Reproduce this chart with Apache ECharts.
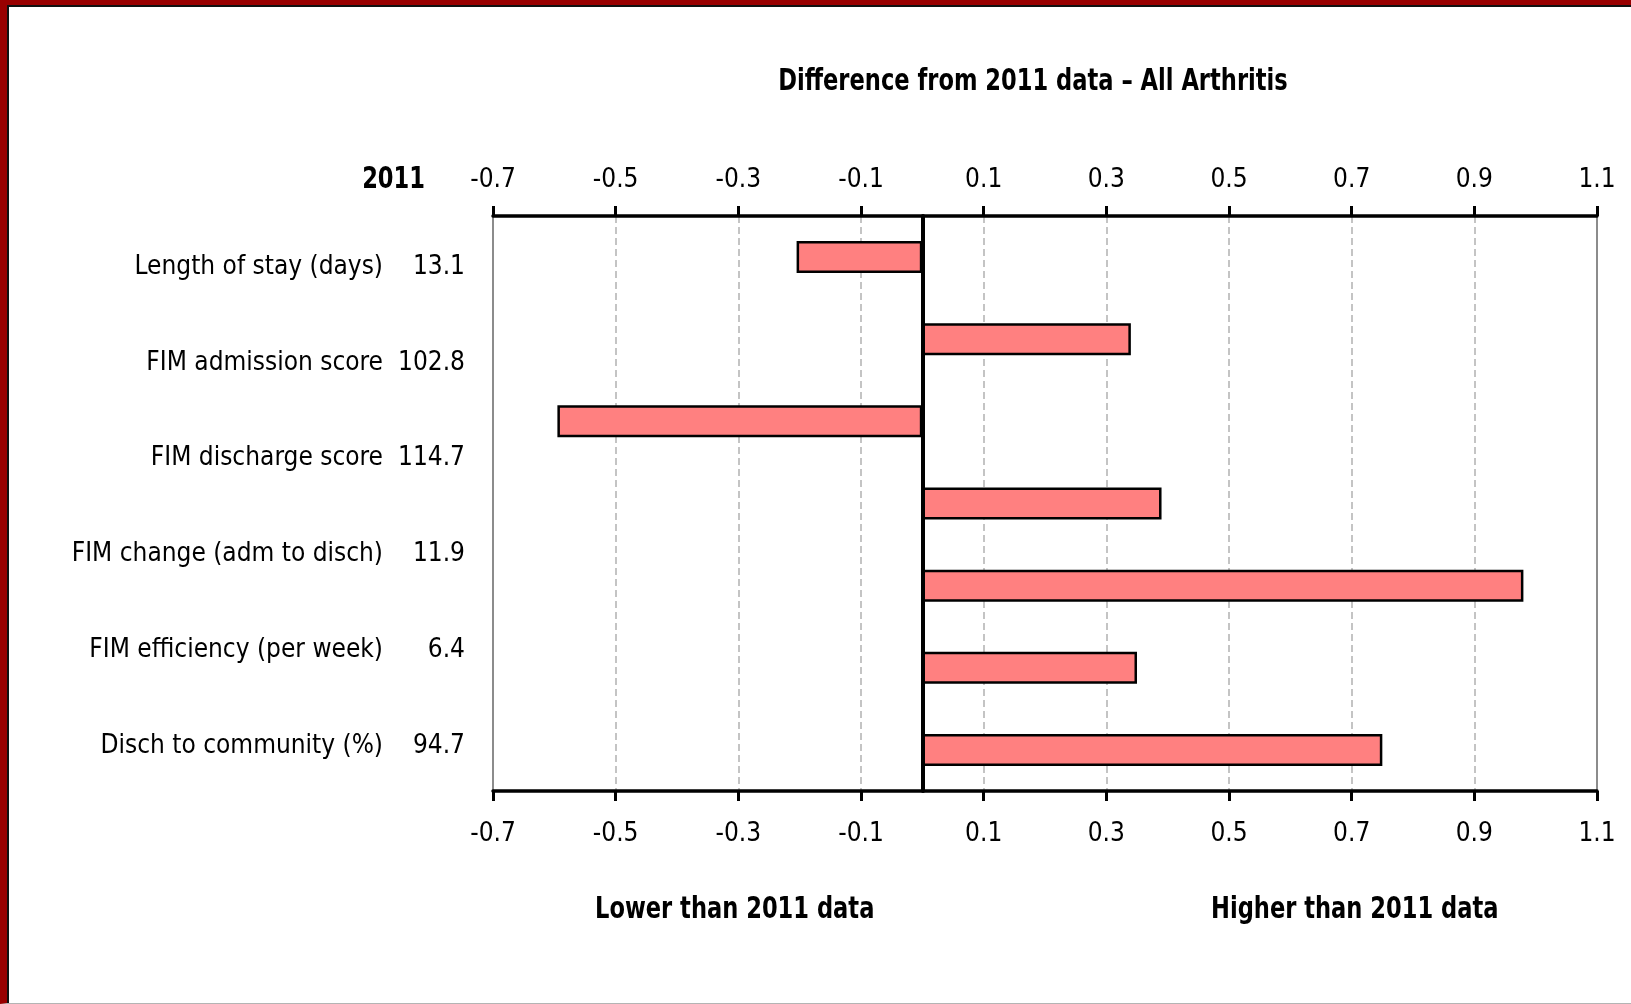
<!DOCTYPE html>
<html>
<head>
<meta charset="utf-8">
<script src="https://cdn.jsdelivr.net/npm/echarts@6/dist/echarts.min.js"></script>
<style>
  html, body { margin: 0; padding: 0; background: #fff; }
  #chart { position: absolute; left: 0; top: 0; width: 1631px; height: 1004px; }
  #frameRed { position: absolute; left: 0; top: 0; width: 1631px; height: 1004px; box-sizing: border-box;
              border-left: 7px solid #990000; border-top: 5px solid #990000; border-bottom: 1px solid #b4b4b4; pointer-events: none; }
  #frameBlack { position: absolute; left: 7px; top: 5px; width: 1624px; height: 998px; box-sizing: border-box;
              border-left: 2px solid #111; border-top: 2px solid #111; pointer-events: none; }
</style>
</head>
<body>
<div id="chart"></div>
<div id="frameRed"></div>
<div id="frameBlack"></div>
<script>
// ---- data ----
const rowLabels = ['Length of stay (days)', 'FIM admission score', 'FIM discharge score',
                   'FIM change (adm to disch)', 'FIM efficiency (per week)', 'Disch to community (%)'];
const values2011 = ['13.1', '102.8', '114.7', '11.9', '6.4', '94.7'];
const barRows = ['1', '2', '3', '4', '5', '6', '7'];
const differences = [-0.205, 0.34, -0.595, 0.39, 0.98, 0.35, 0.75];
const xTicks = ['-0.7', '-0.5', '-0.3', '-0.1', '0.1', '0.3', '0.5', '0.7', '0.9', '1.1'];
const xMin = -0.7, xMax = 1.1, xStep = 0.2;

const FONT = "'Liberation Sans Narrow', 'DejaVu Sans Condensed', 'Arial Narrow', 'Liberation Sans', sans-serif";

const chart = echarts.init(document.getElementById('chart'), null, { renderer: 'canvas' });

function tickFmt(v) {
  const s = (Math.round(v * 10) / 10).toFixed(1);
  return xTicks.indexOf(s) >= 0 ? s : '';
}

function xAxisCfg(pos, withSplit, margin) {
  return {
    type: 'value', position: pos, min: xMin, max: xMax, interval: xStep,
    axisLine: { show: true, onZero: false, lineStyle: { color: '#000', width: 3.5 } },
    axisTick: { show: true, length: 10, lineStyle: { color: '#000', width: 3 } },
    axisLabel: { formatter: tickFmt, color: '#000', fontFamily: FONT, fontSize: 26, margin: margin },
    splitLine: { show: withSplit, showMinLine: false, showMaxLine: false,
                 lineStyle: { color: '#c4c4c4', width: 2, type: [7, 4] } }
  };
}

const SX = 0.81;
function label(text, x, y, align) {
  return { type: 'text', x: x, y: y, scaleX: SX, scaleY: 1,
           style: { text: text, font: 'bold 31px ' + FONT, fill: '#000', textAlign: align, textVerticalAlign: 'middle' } };
}

const option = {
  animation: false,
  backgroundColor: '#fff',
  grid: { left: 493, right: 34, top: 216, bottom: 213, show: true, borderColor: '#8c8c8c', borderWidth: 2, backgroundColor: 'transparent' },
  xAxis: [xAxisCfg('top', true, 23), xAxisCfg('bottom', false, 30)],
  yAxis: [
    {
      type: 'category', data: barRows, inverse: true, z: 5,
      axisLine: { show: true, onZero: true, lineStyle: { color: '#000', width: 4 } },
      axisTick: { show: false }, axisLabel: { show: false }, splitLine: { show: false }
    },
    {
      type: 'category', data: rowLabels.map((l, i) => l + '\u0000' + values2011[i]), inverse: true, position: 'left',
      axisLine: { show: false }, axisTick: { show: false }, splitLine: { show: false },
      axisLabel: {
        margin: 28,
        padding: [6, 0, 0, 0],
        formatter: function (s) {
          const p = s.split('\u0000');
          return '{n|' + p[0] + '}{v|' + p[1] + '}';
        },
        rich: {
          n: { fontFamily: FONT, fontSize: 26, color: '#000' },
          v: { fontFamily: FONT, fontSize: 26, color: '#000', width: 82, align: 'right' }
        }
      }
    }
  ],
  series: [{
    type: 'bar', xAxisIndex: 0, yAxisIndex: 0, data: differences, barWidth: 32,
    itemStyle: { color: '#ff8080', borderColor: '#000', borderWidth: 2.5 }
  }],
  graphic: [
    label('Difference from 2011 data \u2013 All Arthritis', 1033, 82, 'center'),
    label('2011', 425, 180, 'right'),
    label('Lower than 2011 data', 595, 910, 'left'),
    label('Higher than 2011 data', 1211, 910, 'left')
  ]
};
chart.setOption(option);
</script>
</body>
</html>
